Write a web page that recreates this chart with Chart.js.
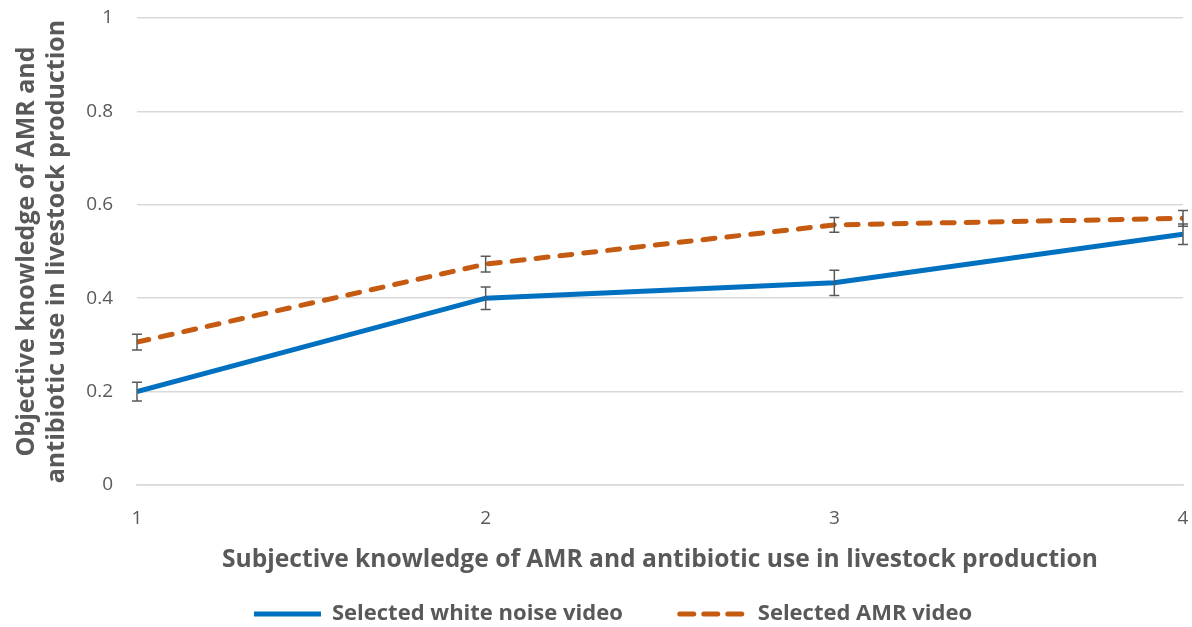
<!DOCTYPE html>
<html>
<head>
<meta charset="utf-8">
<script src="https://cdn.jsdelivr.net/npm/chart.js@4/dist/chart.umd.min.js"></script>
<style>
  html, body { margin: 0; padding: 0; background: #fff; }
  #wrap { width: 1192px; height: 627px; }
</style>
</head>
<body>
<div id="wrap"><canvas id="knowledgeChart"></canvas></div>
<script>
const xLevels = [1, 2, 3, 4];
const whiteNoise = [0.20, 0.40, 0.433, 0.537];
const whiteNoiseErr = [0.02, 0.024, 0.027, 0.022];
const amrVideo = [0.306, 0.473, 0.557, 0.571];
const amrVideoErr = [0.017, 0.017, 0.016, 0.017];
const yTicks = [0, 0.2, 0.4, 0.6, 0.8, 1];

const grey = '#595959';
const font = '"Open Sans", "Noto Sans", sans-serif';

// error bars drawn through the scales
const errorBars = {
  id: 'errorBars',
  afterDatasetsDraw(chart) {
    const ctx = chart.ctx;
    const xs = chart.scales.x, ys = chart.scales.y;
    const sets = [[whiteNoise, whiteNoiseErr], [amrVideo, amrVideoErr]];
    ctx.save();
    ctx.strokeStyle = grey;
    ctx.lineWidth = 1.5;
    sets.forEach(([vals, errs]) => {
      vals.forEach((v, i) => {
        const px = xs.getPixelForValue(xLevels[i]);
        const top = ys.getPixelForValue(v + errs[i]);
        const bot = ys.getPixelForValue(v - errs[i]);
        ctx.beginPath();
        ctx.moveTo(px, top); ctx.lineTo(px, bot);
        ctx.moveTo(px - 5, top); ctx.lineTo(px + 5, top);
        ctx.moveTo(px - 5, bot); ctx.lineTo(px + 5, bot);
        ctx.stroke();
      });
    });
    ctx.restore();
  }
};

new Chart(document.getElementById('knowledgeChart'), {
  type: 'line',
  data: {
    datasets: [{
      label: 'Selected white noise video',
      data: xLevels.map((x, i) => ({ x: x, y: whiteNoise[i] })),
      borderColor: '#0070C0',
      backgroundColor: '#0070C0',
      borderWidth: 5,
      pointRadius: 0,
      tension: 0
    }, {
      label: 'Selected AMR video',
      data: xLevels.map((x, i) => ({ x: x, y: amrVideo[i] })),
      borderColor: '#C55A11',
      backgroundColor: '#C55A11',
      borderWidth: 5,
      borderDash: [12, 12],
      borderCapStyle: 'round',
      pointRadius: 0,
      tension: 0
    }]
  },
  options: {
    responsive: true,
    maintainAspectRatio: false,
    animation: false,
    // left padding is wide so the legend row centres where the original sits
    layout: { padding: { left: 43, right: 9, top: 18, bottom: -8 } },
    plugins: {
      tooltip: { enabled: false },
      legend: {
        position: 'bottom',
        labels: {
          color: grey,
          font: { family: font, size: 22, weight: 'bold' },
          boxWidth: 67,
          boxHeight: 0,
          padding: 57
        }
      }
    },
    scales: {
      x: {
        type: 'linear',
        min: 1,
        max: 4,
        ticks: { stepSize: 1, color: grey, font: { family: font, size: 19 }, padding: 14 },
        grid: { display: false },
        border: { display: true, color: '#d9d9d9', width: 1.5 },
        title: {
          display: true,
          text: 'Subjective knowledge of AMR and antibiotic use in livestock production',
          color: grey,
          font: { family: font, size: 24.6, weight: 'bold' },
          padding: { top: 0, bottom: -29 }
        },
        afterFit(axis) {
          axis.height = 61;
          axis.paddingLeft = 0;
          axis.paddingRight = 0;
        }
      },
      y: {
        min: 0,
        max: 1,
        afterBuildTicks(axis) { axis.ticks = yTicks.map(v => ({ value: v })); },
        ticks: { color: grey, font: { family: font, size: 19 }, padding: 24, callback: v => String(v) },
        grid: { color: '#d9d9d9', lineWidth: 1.5, drawTicks: false },
        border: { display: false },
        title: {
          display: true,
          text: ['Objective knowledge of AMR and', 'antibiotic use in livestock production'],
          color: grey,
          font: { family: font, size: 25, weight: 'bold', lineHeight: 1.2 },
          padding: { top: -31, bottom: 0 }
        },
        afterFit(axis) {
          axis.width = 94;
          axis.paddingTop = 0;
          axis.paddingBottom = 0;
        }
      }
    }
  },
  plugins: [errorBars]
});
</script>
</body>
</html>
